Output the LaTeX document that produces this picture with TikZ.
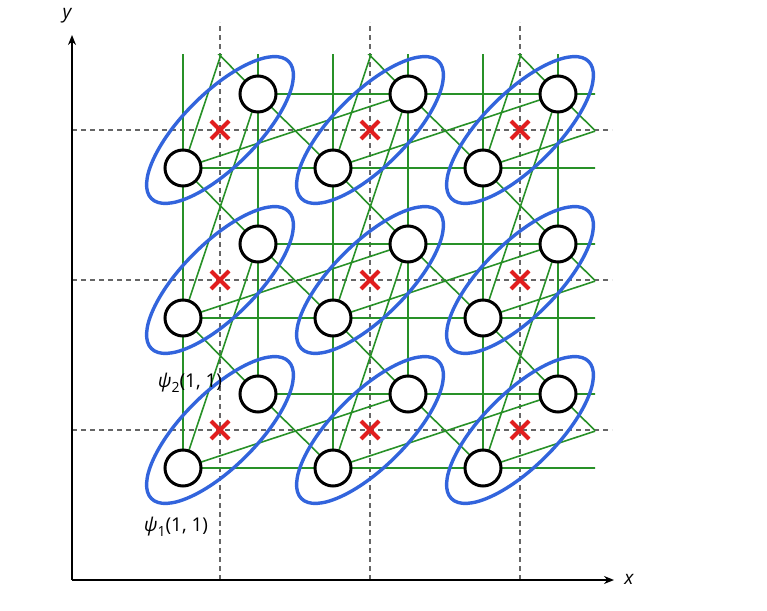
\documentclass[tikz,border=0pt]{standalone}
\usepackage{fontspec}
\setmainfont{Open Sans}
\usetikzlibrary{arrows.meta}
\begin{document}
\begin{tikzpicture}[x=1pt,y=1pt,
  site/.style={circle,draw=black,fill=white,line width=3pt,minimum size=36pt,inner sep=0pt},
  bond/.style={draw={rgb,255:red,40;green,145;blue,40},line width=1.6pt},
  orb/.style={draw={rgb,255:red,50;green,100;blue,220},line width=3.4pt},
  grid/.style={dash pattern=on 5pt off 4pt,draw=black!60,line width=1.3pt},
  xmark/.style={draw={rgb,255:red,225;green,30;blue,30},line width=4pt},
  axis/.style={-{Stealth[length=10pt,width=8pt]},line width=1.6pt},
  lab/.style={font=\fontsize{19}{22}\selectfont}]
\useasboundingbox (0,0) rectangle (767,610);
% axes and dashed grid
\coordinate (O) at (72,30);
\coordinate (Ytop) at (72,575);
\coordinate (Xend) at (614,30);
\foreach \cx in {220,370,520} {\draw[grid] (\cx,30) -- (\cx,588);}
\foreach \ty in {480,330,180} {\draw[grid] (72,\ty) -- (612,\ty);}
\draw[axis] (O) -- (Ytop);
\draw[axis] (O) -- (Xend);
\node[lab] (ylab) at (67,594) {\itshape y};
\node[lab] (xlab) at (629,31) {\itshape x};
% coordinates
\foreach \i in {0,1,2,3} {
  \foreach \j in {-1,0,1,2} {
    \pgfmathsetmacro{\cx}{220+150*\i}
    \pgfmathsetmacro{\ty}{480-150*\j}
    \coordinate (pA-\i-\j) at (\cx-37,\ty-38);
    \coordinate (pB-\i-\j) at (\cx+38,\ty+36);
  }
}
% bonds
\begin{scope}
\clip (0,0) rectangle (595,555);
\foreach \i in {0,1,2} {
  \foreach \j in {0,1,2} {
    \pgfmathtruncatemacro{\jm}{\j-1}
    \pgfmathtruncatemacro{\ip}{\i+1}
    \draw[bond] (pA-\i-\j) -- (pA-\i-\jm);
    \draw[bond] (pB-\i-\j) -- (pB-\i-\jm);
    \draw[bond] (pA-\i-\j) -- (pA-\ip-\j);
    \draw[bond] (pB-\i-\j) -- (pB-\ip-\j);
    \draw[bond] (pA-\i-\j) -- (pB-\i-\jm);
    \draw[bond] (pA-\i-\jm) -- (pB-\i-\j);
    \draw[bond] (pB-\i-\j) -- (pA-\ip-\j);
    \draw[bond] (pA-\i-\j) -- (pB-\ip-\j);
  }
}
\end{scope}
% orbitals, crosses, sites
\foreach \i in {0,1,2} {
  \foreach \j in {0,1,2} {
    \pgfmathsetmacro{\cx}{220+150*\i}
    \pgfmathsetmacro{\ty}{480-150*\j}
    \draw[orb,shift={(\cx,\ty)},rotate=45] (0,0) ellipse (97 and 37);
    \draw[xmark] (\cx-9,\ty-9) -- (\cx+9,\ty+9) (\cx-9,\ty+9) -- (\cx+9,\ty-9);
    \node[site] (A-\i-\j) at (pA-\i-\j) {};
    \node[site] (B-\i-\j) at (pB-\i-\j) {};
  }
}
\node[lab] (psi2) at (190,227) {{\itshape ψ}\raisebox{-5pt}{\fontsize{14}{16}\selectfont 2}(1, 1)};
\node[lab] (psi1) at (176,83) {{\itshape ψ}\raisebox{-5pt}{\fontsize{14}{16}\selectfont 1}(1, 1)};
\end{tikzpicture}
\end{document}
